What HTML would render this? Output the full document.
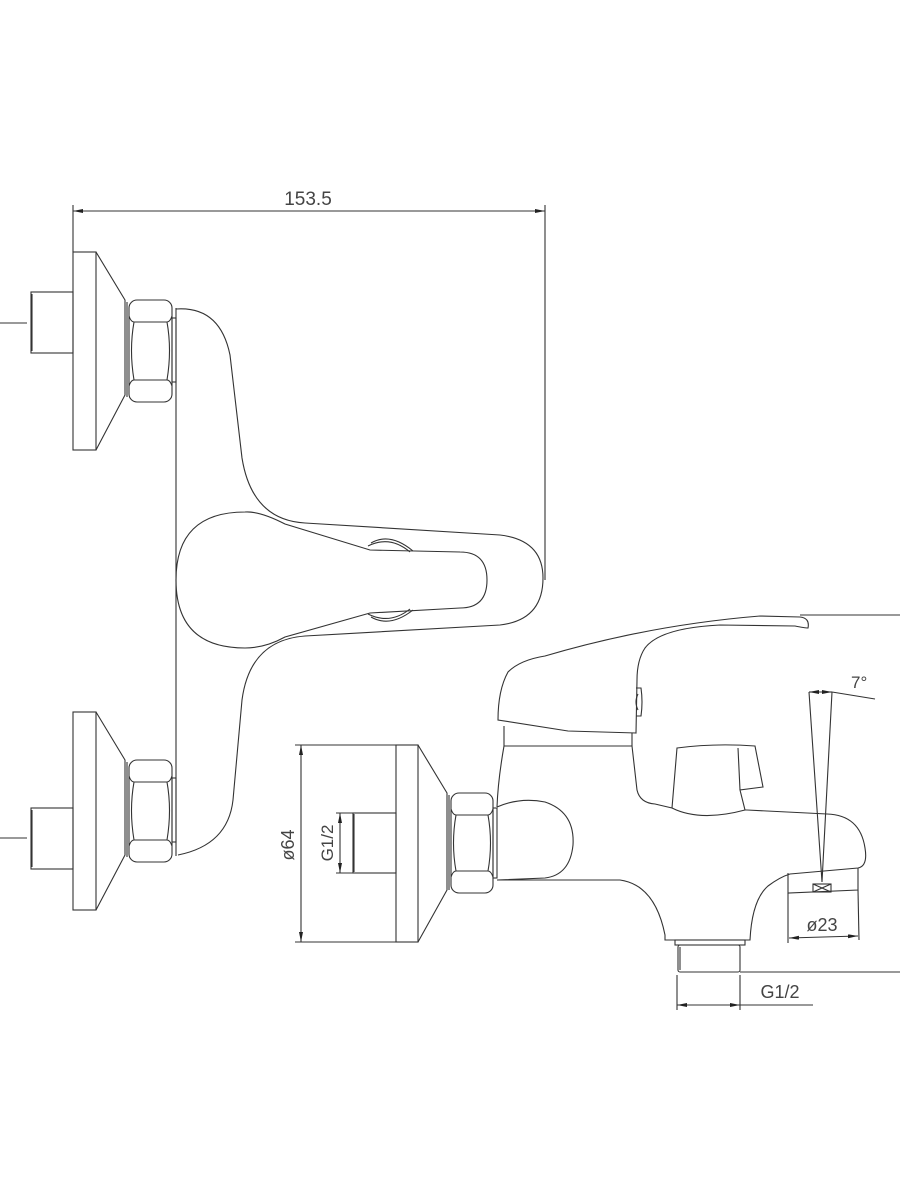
<!DOCTYPE html>
<html><head><style>html,body{margin:0;padding:0;background:#fff}svg{display:block}</style></head>
<body>
<svg width="900" height="1200" viewBox="0 0 900 1200" xmlns="http://www.w3.org/2000/svg" fill="none" stroke="#333" stroke-width="1.1" font-family="Liberation Sans, sans-serif">
<defs>
<marker id="a" viewBox="0 0 10 4" refX="10" refY="2" markerWidth="10" markerHeight="4" orient="auto-start-reverse" markerUnits="userSpaceOnUse"><path d="M0,0 L10,2 L0,4z" fill="#222" stroke="none"/></marker>
</defs>
<!-- top dimension -->
<line x1="73" y1="211" x2="545" y2="211" marker-start="url(#a)" marker-end="url(#a)"/>
<line x1="73" y1="205" x2="73" y2="252"/>
<line x1="545" y1="205" x2="545" y2="580"/>
<text x="308" y="205" font-size="19" fill="#444" stroke="none" text-anchor="middle">153.5</text>

<!-- upper fitting -->
<line x1="0" y1="323" x2="27" y2="323"/>
<rect x="31" y="292" width="42" height="61"/><line x1="32" y1="294" x2="32" y2="351"/>
<rect x="73" y="252" width="23" height="198"/>
<path d="M96,252 L125,300 L125,395 L96,450"/>
<line x1="127" y1="302" x2="127" y2="397"/>
<rect x="129" y="300" width="43" height="102" rx="8"/>
<path d="M129,316 Q131,322 134,322 L167,322 Q170,322 172,316 M129,386 Q131,380 134,380 L167,380 Q170,380 172,386 M134,322 Q129,350 134,380 M167,322 Q172,350 167,380"/>
<rect x="172" y="318" width="4" height="64"/>

<!-- lower fitting -->
<line x1="0" y1="838" x2="27" y2="838"/>
<rect x="31" y="808" width="42" height="61"/><line x1="32" y1="810" x2="32" y2="867"/>
<rect x="73" y="712" width="23" height="198"/>
<path d="M96,712 L125,760 L125,855 L96,910"/>
<line x1="127" y1="762" x2="127" y2="857"/>
<rect x="129" y="760" width="43" height="102" rx="8"/>
<path d="M129,776 Q131,782 134,782 L167,782 Q170,782 172,776 M129,846 Q131,840 134,840 L167,840 Q170,840 172,846 M134,782 Q129,810 134,840 M167,782 Q172,810 167,840"/>
<rect x="172" y="778" width="4" height="64"/>

<!-- body front view -->
<line x1="176" y1="308" x2="176" y2="856"/>
<path d="M176,309 Q220,306 230,355 L242,458 Q252,520 305,523 L500,535 Q543,540 543,578 Q543,620 500,625 L305,636 Q250,640 242,700 L233,800 Q228,845 178,855"/>
<!-- lever -->
<path d="M285,524 Q260,511 245,512 Q176,512 176,580 Q176,648 245,648 Q265,648 285,637 L370,613 L460,608 Q487,608 487,580 Q487,552 460,552 L370,550 Z"/>
<path d="M368,546 Q390,535 410,552 M371,543 Q390,532 413,551 M368,614 Q390,625 410,609 M371,617 Q390,628 413,610"/>

<!-- side view dims -->
<line x1="301" y1="745" x2="301" y2="942" marker-start="url(#a)" marker-end="url(#a)"/>
<line x1="295" y1="745" x2="396" y2="745"/><line x1="295" y1="942" x2="396" y2="942"/>
<text transform="translate(294,845) rotate(-90)" font-size="18" fill="#444" stroke="none" text-anchor="middle">ø64</text>
<line x1="340" y1="813" x2="340" y2="873" marker-start="url(#a)" marker-end="url(#a)"/>
<line x1="336" y1="813" x2="353" y2="813"/><line x1="336" y1="873" x2="353" y2="873"/>
<text transform="translate(333,843) rotate(-90)" font-size="17" fill="#444" stroke="none" text-anchor="middle">G1/2</text>
<rect x="353" y="813" width="43" height="60"/><line x1="354" y1="814" x2="354" y2="872"/>
<rect x="396" y="745" width="22" height="197"/>
<path d="M418,745 L447,793 L447,890 L418,942"/>
<line x1="449" y1="795" x2="449" y2="890"/>
<rect x="451" y="793" width="42" height="100" rx="8"/>
<path d="M451,809 Q453,815 456,815 L488,815 Q491,815 493,809 M451,877 Q453,871 456,871 L488,871 Q491,871 493,877 M456,815 Q451,843 456,871 M488,815 Q493,843 488,871"/>
<rect x="493" y="808" width="4" height="70"/>

<!-- side body -->
<path d="M497,807 Q520,797 545,802 Q575,812 573,845 Q570,875 545,878 L497,880"/>
<path d="M497,880 L620,880 Q655,885 665,935 L665,940 L750,940 Q752,900 768,886 Q780,877 790,874 L858,868 Q868,866 865,848 Q860,815 827,814 L747,810"/>
<path d="M504,746 Q498,780 497,807"/>
<path d="M504,746 L632,746 L637,790 Q640,803 655,804 L672,808 Q700,822 745,810 L747,810"/>
<!-- knob -->
<path d="M672,808 L677,748 Q715,743 755,746 L763,787 L740,790 L745,810 M740,790 L738,748"/>
<!-- lever -->
<path d="M498,720 Q498,690 508,672 Q520,660 545,656 Q650,625 760,616 L800,617 Q810,618 808,628 Q805,628 795,626 L720,625 Q660,628 645,648 Q637,660 637,680 L636,733 L568,731 L498,720 Z"/>
<path d="M504,726 L504,746 M632,733 L632,746"/>
<path d="M636,688 L641,688 Q643,702 641,716 L636,716 M638,694 Q634,702 638,710"/>
<line x1="800" y1="615" x2="900" y2="615"/>
<!-- nozzle -->
<path d="M788,873 L788,893 L858,890 L858,868"/>
<rect x="813" y="884" width="18" height="8"/><path d="M813,884 L831,892 M831,884 L813,892"/>
<!-- 7 deg -->
<path d="M809,692 L822,882 L832,692"/>
<line x1="809" y1="692" x2="832" y2="692" stroke-width="0.9"/>
<path d="M809,692 L817,692" marker-start="url(#a)"/><path d="M824,692 L832,692" marker-end="url(#a)"/>
<line x1="832" y1="692" x2="875" y2="699"/>
<text x="851" y="688" font-size="17" fill="#444" stroke="none">7°</text>
<!-- ø23 -->
<line x1="788" y1="893" x2="788" y2="943"/><line x1="858" y1="890" x2="859" y2="940"/>
<line x1="789" y1="938" x2="858" y2="936" marker-start="url(#a)" marker-end="url(#a)"/>
<text x="822" y="931" font-size="18" fill="#444" stroke="none" text-anchor="middle">ø23</text>
<!-- bottom thread -->
<rect x="675" y="940" width="70" height="5"/>
<rect x="678" y="945" width="62" height="27" rx="2"/><line x1="680" y1="947" x2="680" y2="970"/>
<line x1="740" y1="972" x2="900" y2="972"/>
<line x1="677" y1="975" x2="677" y2="1010"/><line x1="740" y1="975" x2="740" y2="1010"/>
<line x1="677" y1="1005" x2="740" y2="1005" marker-start="url(#a)" marker-end="url(#a)"/>
<line x1="740" y1="1005" x2="813" y2="1005"/>
<text x="780" y="998" font-size="18" fill="#444" stroke="none" text-anchor="middle">G1/2</text>
</svg>
</body></html>
